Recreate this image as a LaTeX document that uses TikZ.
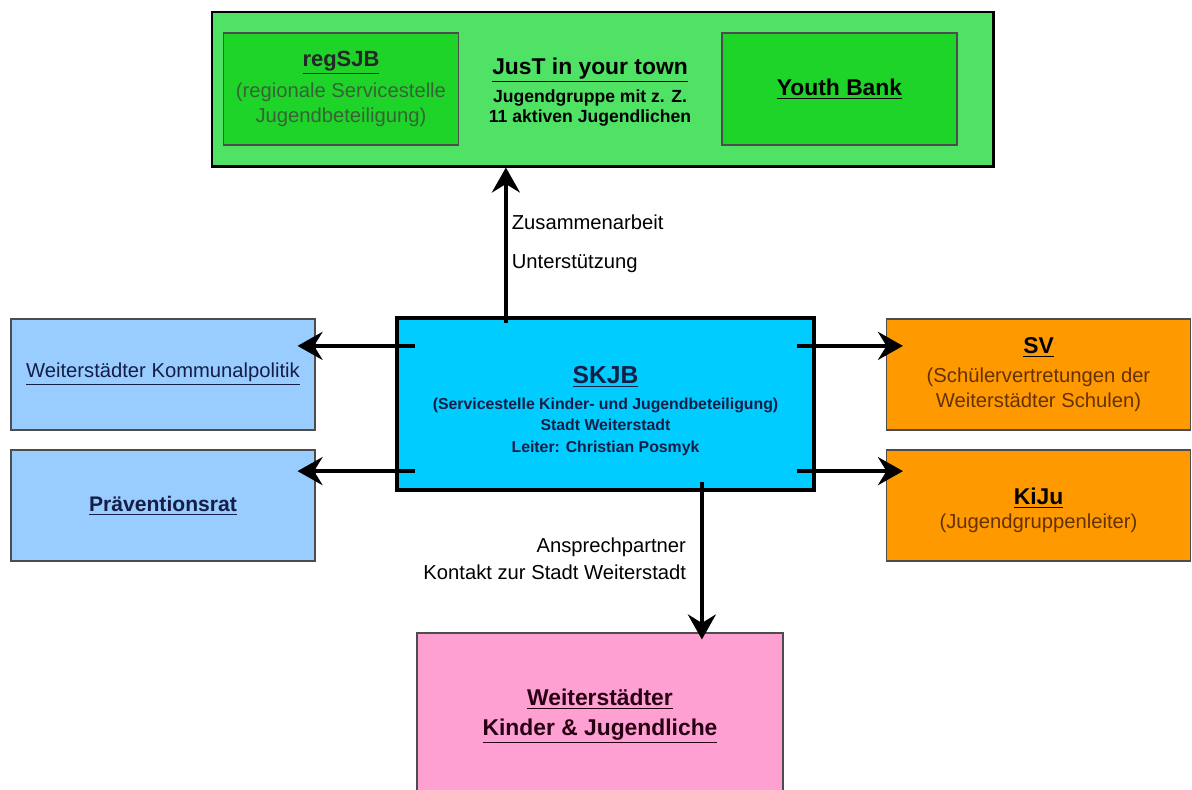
\documentclass[tikz,border=0pt]{standalone}
\usepackage{fontspec}
\setmainfont{Liberation Sans}
\usepackage{xcolor}
\usepackage{tikz}
\usetikzlibrary{arrows.meta,calc,positioning}

\definecolor{grnouter}{RGB}{80,226,100}
\definecolor{grninner}{RGB}{30,212,40}
\definecolor{cyanbox}{RGB}{0,204,255}
\definecolor{bluebox}{RGB}{153,204,255}
\definecolor{orangebox}{RGB}{255,153,0}
\definecolor{pinkbox}{RGB}{255,160,210}
\definecolor{navytext}{RGB}{20,30,70}
\definecolor{grntext}{RGB}{55,100,55}
\definecolor{browntext}{RGB}{100,50,0}
\definecolor{pinktext}{RGB}{40,0,20}

\newcommand{\fs}[2]{\fontsize{#1}{#2}\selectfont}

\begin{document}
\begin{tikzpicture}[>={Stealth[length=0.5cm,width=0.56cm,inset=0.17cm]},
  box/.style={draw=black!70, line width=0.6pt, minimum width=6.08cm, minimum height=2.22cm, align=center, inner sep=0pt},
  gbox/.style={draw=black!70, line width=0.6pt, fill=grninner, minimum width=4.7cm, minimum height=2.24cm, align=center, inner sep=0pt},
  arr/.style={->, line width=2.2pt},
  lbl/.style={font=\fs{11.5}{15.3}, inner sep=0pt}]
  \useasboundingbox (0,0) rectangle (23.84,-15.78);

  \node[draw, line width=1.7pt, fill=grnouter, minimum width=15.62cm, minimum height=3.08cm] (jyt) at (12.05,-1.78) {};
  \node[gbox, font=\fs{11.5}{14.2}, text=grntext] (regsjb) at (6.82,-1.78)
    {{\color{black!85}\fs{12.5}{16}\bfseries\underline{regSJB}}\\[3.4pt](regionale Servicestelle\\Jugendbeteiligung)};
  \node[gbox, font=\fs{13}{15}\bfseries] (ybank) at (16.79,-1.78) {\underline{Youth Bank}};
  \node[align=center, inner sep=0pt, font=\fs{10}{11.5}\bfseries] (jyttext) at (11.8,-1.84)
    {{\fs{13}{17}\underline{JusT in your town}}\\[2.8pt]Jugendgruppe mit z. Z.\\11 aktiven Jugendlichen};

  \node[draw, line width=2.4pt, fill=cyanbox, minimum width=8.34cm, minimum height=3.44cm, align=center, text=navytext,
    font=\fs{9}{12.2}\bfseries] (skjb) at (12.11,-8.08)
    {{\rule{0pt}{17.4pt}\fs{14}{19}\underline{SKJB}}\\[2.5pt](Servicestelle Kinder- und Jugendbeteiligung)\\Stadt Weiterstadt\\Leiter: Christian Posmyk};

  \node[box, fill=bluebox, text=navytext, font=\fs{11.5}{14}] (kpol) at (3.26,-7.49) {\underline{Weiterstädter Kommunalpolitik}};
  \node[box, fill=bluebox, text=navytext, font=\fs{12}{14}\bfseries] (praev) at (3.26,-10.11) {\underline{Präventionsrat}};

  \node[box, fill=orangebox, text=browntext, font=\fs{11.5}{14}] (sv) at (20.77,-7.49)
    {{\color{black}\fs{13}{16}\bfseries\underline{SV}}\\[2.8pt](Schülervertretungen der\\Weiterstädter Schulen)};
  \node[box, fill=orangebox, text=browntext, font=\fs{11.5}{14}] (kiju) at (20.77,-10.11)
    {{\rule{0pt}{15pt}\color{black}\fs{13}{16}\bfseries\underline{KiJu}}\\(Jugendgruppenleiter)};

  \node[box, fill=pinkbox, minimum width=7.32cm, minimum height=3.32cm, text=pinktext, font=\fs{13}{17}\bfseries] (kids) at (12.0,-14.32)
    {\underline{Weiterstädter}\\\underline{Kinder \& Jugendliche}};

  \coordinate (upfoot) at ([xshift=2.22cm, yshift=-0.14cm]skjb.north west);
  \coordinate (lt1) at ([xshift=0.4cm, yshift=-0.6cm]skjb.north west);
  \coordinate (lt2) at ([xshift=0.4cm, yshift=0.42cm]skjb.south west);
  \coordinate (rt1) at ([xshift=-0.38cm, yshift=-0.6cm]skjb.north east);
  \coordinate (rt2) at ([xshift=-0.38cm, yshift=0.42cm]skjb.south east);
  \coordinate (dnfoot) at ([xshift=6.14cm, yshift=0.2cm]skjb.south west);

  \draw[arr] (upfoot) -- (upfoot |- jyt.south)
    node[lbl, pos=0.65, anchor=west, xshift=0.08cm] {Zusammenarbeit}
    node[lbl, pos=0.38, anchor=west, xshift=0.08cm] {Unterstützung};
  \draw[arr, shorten >=-0.36cm] (lt1) -- (lt1 -| kpol.east);
  \draw[arr, shorten >=-0.36cm] (lt2) -- (lt2 -| praev.east);
  \draw[arr, shorten >=-0.34cm] (rt1) -- (rt1 -| sv.west);
  \draw[arr, shorten >=-0.34cm] (rt2) -- (rt2 -| kiju.west);
  \draw[arr, shorten >=-0.14cm] (dnfoot) -- (dnfoot |- kids.north)
    node[lbl, pos=0.51, anchor=east, xshift=-0.28cm, align=right] {Ansprechpartner\\Kontakt zur Stadt Weiterstadt};
\end{tikzpicture}
\end{document}
